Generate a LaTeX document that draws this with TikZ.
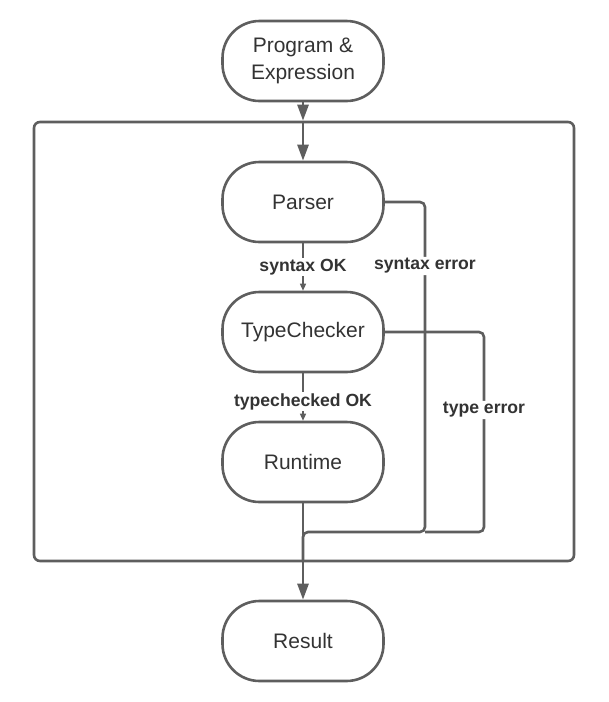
\documentclass[tikz,border=0pt]{standalone}
\usepackage{fontspec}
\setmainfont{Liberation Sans}
\usetikzlibrary{arrows.meta}
\definecolor{linegray}{HTML}{5E5E5E}
\definecolor{textgray}{HTML}{333333}
\begin{document}
\begin{tikzpicture}[x=1pt,y=-1pt,
  term/.style={draw=linegray, line width=2.6pt, rounded corners=37pt,
    minimum width=161pt, minimum height=80pt, inner sep=0pt, align=center,
    text=textgray, font=\fontsize{21}{27}\selectfont},
  frame/.style={draw=linegray, line width=2.6pt, rounded corners=6pt, inner sep=0pt},
  conn/.style={draw=linegray, line width=2.6pt},
  arr/.style={conn, -{Triangle[width=11pt,length=16pt]}},
  thinarr/.style={draw=linegray, line width=1.4pt, -{Triangle[width=6pt,length=7pt]}},
  lab/.style={fill=white, text=textgray, inner sep=1.5pt,
    font=\fontsize{17.6}{20}\selectfont\bfseries}
]
\useasboundingbox (0,0) rectangle (609,702);
\node[frame, minimum width=540pt, minimum height=439pt] (box) at (304,341.5) {};
\node[term] (prog) at (303,61) {Program \&\\Expression};
\node[term] (parser) at (303,202) {Parser};
\node[term] (tc) at (303,332) {TypeChecker};
\node[term] (rt) at (303,462) {Runtime};
\node[term] (res) at (303,641) {Result};
\coordinate (boxin) at (prog |- box.north);
\coordinate (merge) at (303,532);
\coordinate (se) at (425,202);
\coordinate (te) at (484,332);
\draw[arr] (prog) -- (boxin);
\draw[arr] (boxin) -- (parser);
\draw[thinarr] (parser) -- node[lab] {syntax OK} (tc);
\draw[thinarr] (tc) -- node[lab, pos=0.6] {typechecked OK} (rt);
\draw[conn, rounded corners=5pt] (parser.east) -- (se) -- node[lab, pos=0.194] {syntax error} (se |- merge) -- (merge) -- (303,560);
\draw[conn, rounded corners=5pt] (tc.east) -- (te) -- node[lab, pos=0.39] {type error} (te |- merge) -- (se |- merge);
\draw[arr] (rt) -- (res);
\end{tikzpicture}
\end{document}
